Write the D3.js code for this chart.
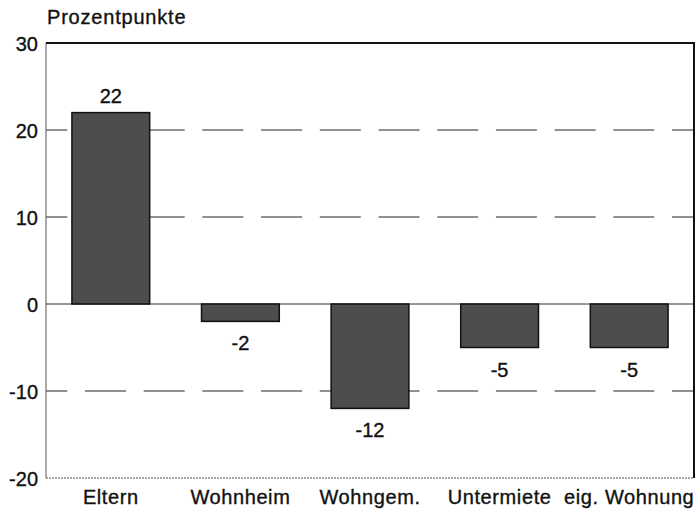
<!DOCTYPE html>
<html>
<head>
<meta charset="utf-8">
<script src="https://cdn.jsdelivr.net/npm/d3@7"></script>
<style>
  body { margin: 0; background: #fff; }
  text { font-family: "Liberation Sans", Arial, sans-serif; fill: #111; stroke: #111; stroke-width: 0.35px; }
</style>
</head>
<body>
<div id="chart"></div>
<script>
// data
var categories = ['Eltern', 'Wohnheim', 'Wohngem.', 'Untermiete', 'eig. Wohnung'];
var values = [22, -2, -12, -5, -5];
var yTicks = [-20, -10, 0, 10, 20, 30];
var gridValues = [20, 10, -10];
var yTitle = 'Prozentpunkte';

var width = 700, height = 511;
var margin = { top: 43, right: 6, bottom: 33, left: 46 };

var svg = d3.select('#chart')
  .append('svg')
  .attr('width', width)
  .attr('height', height);

var x = d3.scaleBand()
  .domain(categories)
  .range([margin.left, width - margin.right])
  .paddingInner(0.4)
  .paddingOuter(0.2);

var y = d3.scaleLinear()
  .domain([-20, 30])
  .range([height - margin.bottom, margin.top]);

// dashed grid lines
svg.append('g')
  .selectAll('line')
  .data(gridValues)
  .enter()
  .append('line')
  .attr('x1', margin.left)
  .attr('x2', width - margin.right)
  .attr('y1', d => y(d))
  .attr('y2', d => y(d))
  .style('stroke', '#222')
  .style('stroke-width', 1)
  .style('stroke-dasharray', '41,17.7')
  .style('stroke-dashoffset', 19.7);

// zero line
svg.append('line')
  .attr('x1', margin.left)
  .attr('x2', width - margin.right)
  .attr('y1', y(0))
  .attr('y2', y(0))
  .style('stroke', '#333')
  .style('stroke-width', 1);

// frame: left and bottom thin grey, top and right black
svg.append('line')
  .attr('x1', margin.left).attr('x2', margin.left)
  .attr('y1', y(30)).attr('y2', y(-20))
  .style('stroke', '#555').style('stroke-width', 1);
svg.append('line')
  .attr('x1', margin.left).attr('x2', width - margin.right)
  .attr('y1', y(-20)).attr('y2', y(-20))
  .style('stroke', '#555').style('stroke-width', 1)
  .style('stroke-dasharray', '2,1');
svg.append('line')
  .attr('x1', margin.left).attr('x2', width - margin.right)
  .attr('y1', y(30)).attr('y2', y(30))
  .style('stroke', '#111').style('stroke-width', 2);
svg.append('line')
  .attr('x1', width - margin.right).attr('x2', width - margin.right)
  .attr('y1', y(30) - 1).attr('y2', y(-20))
  .style('stroke', '#111').style('stroke-width', 2);

// bars
svg.append('g')
  .selectAll('rect')
  .data(values)
  .enter()
  .append('rect')
  .attr('x', (d, i) => x(categories[i]))
  .attr('width', x.bandwidth())
  .attr('y', d => y(Math.max(0, d)))
  .attr('height', d => Math.abs(y(d) - y(0)))
  .style('fill', '#4d4d4d')
  .style('stroke', '#111')
  .style('stroke-width', 1.5);

// value labels
svg.append('g')
  .selectAll('text')
  .data(values)
  .enter()
  .append('text')
  .attr('x', (d, i) => x(categories[i]) + x.bandwidth() / 2)
  .attr('y', d => d >= 0 ? y(d) - 10 : y(d) + 29)
  .attr('text-anchor', 'middle')
  .style('font-size', '20px')
  .text(d => d);

// y axis labels
var yAxis = svg.append('g')
  .attr('transform', 'translate(' + margin.left + ',0)')
  .call(d3.axisLeft(y).tickValues(yTicks).tickSize(0).tickPadding(8).tickFormat(d => String(d)));
yAxis.select('.domain').remove();
yAxis.selectAll('text')
  .attr('dy', '0.36em')
  .style('font-size', '20px')
  .style('font-family', '"Liberation Sans", Arial, sans-serif')
  .style('fill', '#111');

// x axis labels
var xAxis = svg.append('g')
  .attr('transform', 'translate(0,' + (height - margin.bottom) + ')')
  .call(d3.axisBottom(x).tickSize(0).tickPadding(12));
xAxis.select('.domain').remove();
xAxis.selectAll('text')
  .style('font-size', '20px')
  .style('letter-spacing', '0.6px')
  .style('font-family', '"Liberation Sans", Arial, sans-serif')
  .style('fill', '#111');

// axis title
svg.append('text')
  .attr('x', 47)
  .attr('y', 24)
  .style('font-size', '20px')
  .style('letter-spacing', '0.8px')
  .text(yTitle);
</script>
</body>
</html>
